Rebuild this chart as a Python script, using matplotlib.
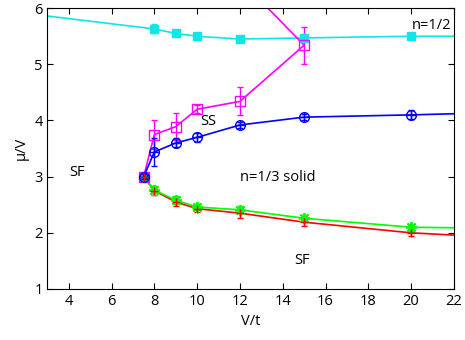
import numpy as np
import matplotlib
matplotlib.use("Agg")
import matplotlib.pyplot as plt

plt.rcParams['font.family'] = ['Open Sans', 'DejaVu Sans']

# n=1/2 boundary (cyan, filled squares)
half_x = [8, 9, 10, 12, 15, 20]
half_y = [5.63, 5.55, 5.50, 5.45, 5.47, 5.50]
half_err = [0.08, 0.07, 0.02, 0.02, 0.02, 0.02]
half_line_x = [3, 8, 9, 10, 12, 15, 20, 22]
half_line_y = [5.86, 5.63, 5.55, 5.50, 5.45, 5.47, 5.50, 5.50]

# SS upper boundary (magenta, open squares)
ss_x = [7.5, 8, 9, 10, 12, 15, 13]
ss_y = [3.0, 3.75, 3.89, 4.20, 4.34, 5.34, 6.12]
ss_err = [0.05, 0.25, 0.24, 0.07, 0.25, 0.33, 0.0]

# solid upper boundary (blue, circles)
top_x = [7.5, 8, 9, 10, 12, 15, 20]
top_y = [3.0, 3.44, 3.60, 3.70, 3.92, 4.06, 4.10]
top_err = [0.05, 0.25, 0.08, 0.08, 0.05, 0.05, 0.08]
top_line_x = top_x + [22]
top_line_y = top_y + [4.12]

# solid lower boundary (red, plus)
low_x = [7.5, 8, 9, 10, 12, 15, 20]
low_y = [3.0, 2.75, 2.55, 2.43, 2.35, 2.19, 2.00]
low_err = [0.05, 0.08, 0.07, 0.06, 0.08, 0.06, 0.06]
low_line_x = low_x + [22]
low_line_y = low_y + [1.96]

# green, asterisks
g_x = [7.5, 8, 9, 10, 12, 15, 20]
g_y = [3.0, 2.76, 2.58, 2.46, 2.41, 2.26, 2.10]
g_err = [0.05, 0.08, 0.07, 0.06, 0.06, 0.05, 0.06]
g_line_x = g_x + [22]
g_line_y = g_y + [2.09]

fig = plt.figure(figsize=(4.65, 3.4), dpi=100)
ax = fig.add_axes([0.102, 0.15, 0.874, 0.826])

cyan = '#10e6e6'
ax.plot(half_line_x, half_line_y, color=cyan, lw=1.2)
ax.errorbar(half_x, half_y, yerr=half_err, fmt='s', color=cyan, ms=6, capsize=2.5, lw=1)

ax.plot(low_line_x, low_line_y, color='#ff0000', lw=1.2)
ax.errorbar(low_x, low_y, yerr=low_err, fmt='+', color='#ff0000', ms=6, capsize=2.5, lw=1)

ax.plot(g_line_x, g_line_y, color='#00ff00', lw=1.2)
ax.errorbar(g_x, g_y, yerr=g_err, fmt='none', color='#00ff00', capsize=2.5, lw=1)
ax.plot(g_x, g_y, ls='none', marker=(8, 2, 0), color='#00ff00', ms=8, mew=1.3)

ax.plot(ss_x, ss_y, color='#ff00ff', lw=1.2)
ax.errorbar(ss_x[:-1], ss_y[:-1], yerr=ss_err[:-1], fmt='s', mfc='none', mec='#ff00ff',
            color='#ff00ff', ms=7.5, capsize=2.5, lw=1)

ax.plot(top_line_x, top_line_y, color='#0000ff', lw=1.2)
ax.errorbar(top_x, top_y, yerr=top_err, fmt='o', mfc='none', mec='#0000ff',
            color='#0000ff', ms=7, capsize=2.5, lw=1)
ax.plot(top_x, top_y, '+', color='#0000ff', ms=7, mew=1)
ax.errorbar([7.5], [3.0], xerr=[0.17], fmt='none', color='#0000ff', capsize=2.5, lw=1)

fs = 10.5
ax.text(4.37, 3.08, 'SF', fontsize=fs, ha='center', va='center')
ax.text(10.5, 3.99, 'SS', fontsize=fs, ha='center', va='center')
ax.text(12.0, 2.99, 'n=1/3 solid', fontsize=fs, ha='left', va='center')
ax.text(14.9, 1.50, 'SF', fontsize=fs, ha='center', va='center')
ax.text(21.9, 5.70, 'n=1/2', fontsize=fs, ha='right', va='center')

ax.set_xlim(3, 22)
ax.set_ylim(1, 6)
ax.set_xticks(range(4, 23, 2))
ax.set_yticks(range(1, 7))
ax.tick_params(direction='in', top=True, right=True, labelsize=fs, length=4)
ax.set_xlabel('V/t', fontsize=fs)
ax.set_ylabel('μ/V', fontsize=fs)

fig.savefig('out.png', dpi=100)
